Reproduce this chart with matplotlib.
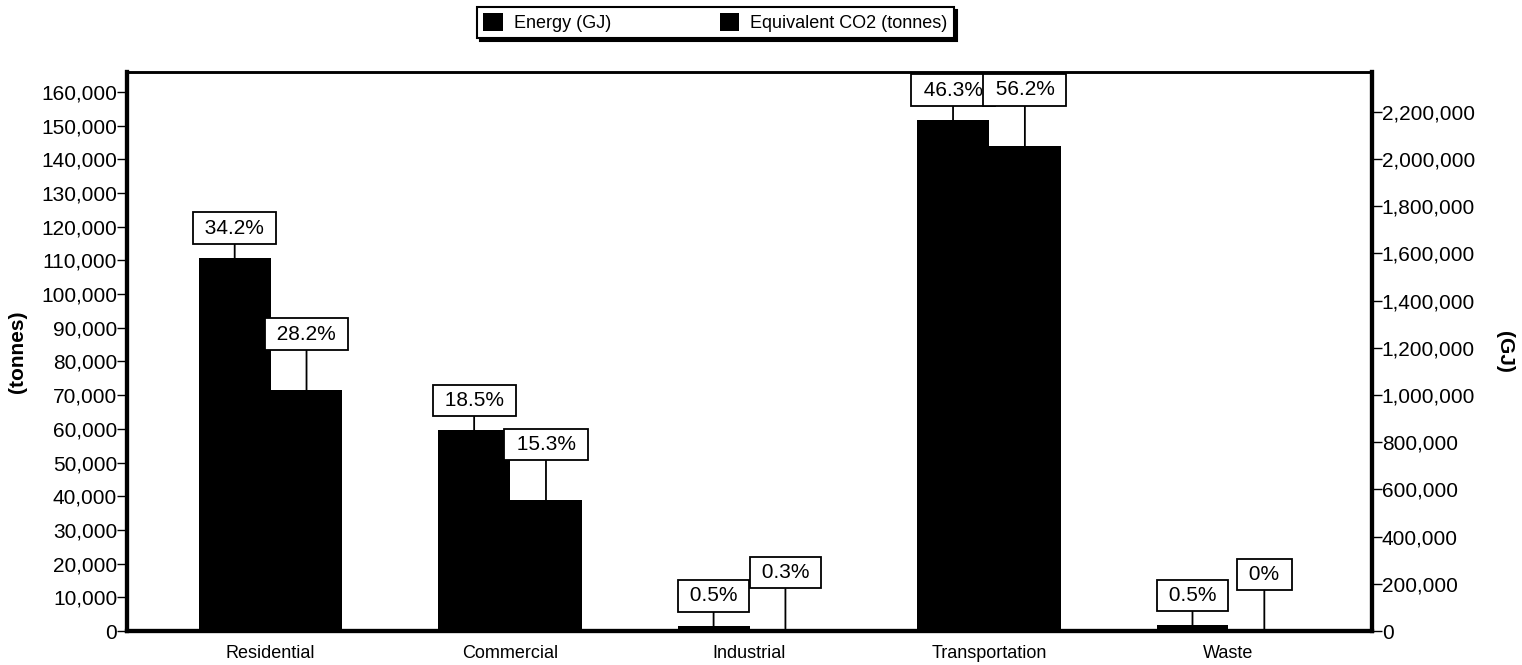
import matplotlib.pyplot as plt
import numpy as np
from matplotlib.ticker import FuncFormatter

plt.rcParams['font.family'] = ['Liberation Sans', 'DejaVu Sans']

# data
sectors = ['Residential', 'Commercial', 'Industrial', 'Transportation', 'Waste']
energy_gj = [1580000, 850000, 22000, 2165000, 24000]
co2_tonnes = [71500, 38800, 700, 144000, 200]
energy_pct = ['34.2%', '18.5%', '0.5%', '46.3%', '0.5%']
co2_pct = ['28.2%', '15.3%', '0.3%', '56.2%', '0%']

fig = plt.figure(figsize=(15.22, 6.65), dpi=100)
ax = fig.add_axes([0.0834, 0.0511, 0.8181, 0.8406])
ax2 = ax.twinx()

x = np.arange(len(sectors))
w = 0.3

# energy on the right (GJ) axis, CO2 on the left (tonnes) axis
b1 = ax2.bar(x - w / 2, energy_gj, w, color='black', label='Energy (GJ)')
b2 = ax.bar(x + w / 2, co2_tonnes, w, color='black', label='Equivalent CO2 (tonnes)')

ax.set_xlim(-0.6, 4.6)
ax.set_ylim(0, 165900)
ax2.set_ylim(0, 2369000)
ax.set_yticks(np.arange(0, 160001, 10000))
ax2.set_yticks(np.arange(0, 2200001, 200000))
fmt = FuncFormatter(lambda v, p: f'{int(v):,}')
ax.yaxis.set_major_formatter(fmt)
ax2.yaxis.set_major_formatter(fmt)
ax.set_xticks(x)
ax.set_xticklabels(sectors, fontsize=13)
ax.tick_params(axis='x', length=0, pad=10)
ax.tick_params(axis='y', labelsize=15, length=7, width=1, pad=0)
ax2.tick_params(axis='y', labelsize=15, length=7, width=1, pad=0)

for a in (ax, ax2):
    a.spines['left'].set_linewidth(3)
    a.spines['right'].set_linewidth(3)
    a.spines['bottom'].set_linewidth(3)
    a.spines['top'].set_linewidth(1.8)

ax.set_ylabel('(tonnes)', fontsize=15, fontweight='bold', labelpad=10)
ax2.set_ylabel('(GJ)', fontsize=15, fontweight='bold', rotation=270, labelpad=28)

box = dict(boxstyle='square,pad=0.3', fc='white', ec='black', lw=1.3)
line = dict(arrowstyle='-', color='black', lw=1.3, shrinkA=0, shrinkB=0)

# all labels live on ax2 so the CO2 boxes sit on top of the energy boxes
for i in range(len(sectors)):
    ax2.annotate(f' {energy_pct[i]} ', xy=(x[i] - w / 2, energy_gj[i]), xytext=(0, 30),
                 textcoords='offset pixels', ha='center', va='center', fontsize=15,
                 bbox=box, arrowprops=line, annotation_clip=False)
for i in range(len(sectors)):
    ax2.annotate(f' {co2_pct[i]} ', xy=(x[i] + w / 2, co2_tonnes[i]), xycoords=ax.transData,
                 xytext=(0, 56), textcoords='offset pixels', ha='center', va='center',
                 fontsize=15, bbox=box, arrowprops=line, annotation_clip=False)

leg = fig.legend(handles=[b1, b2], loc='center', bbox_to_anchor=(0.47, 0.966),
                 ncol=2, fontsize=13, frameon=True, fancybox=False,
                 shadow={'color': 'black', 'alpha': 1}, handlelength=1.1,
                 handleheight=1.1, columnspacing=6, borderpad=0.35, handletextpad=0.6,
                 borderaxespad=0)
leg.get_frame().set_edgecolor('black')
leg.get_frame().set_linewidth(1.5)

fig.savefig('out.png', dpi=100)
